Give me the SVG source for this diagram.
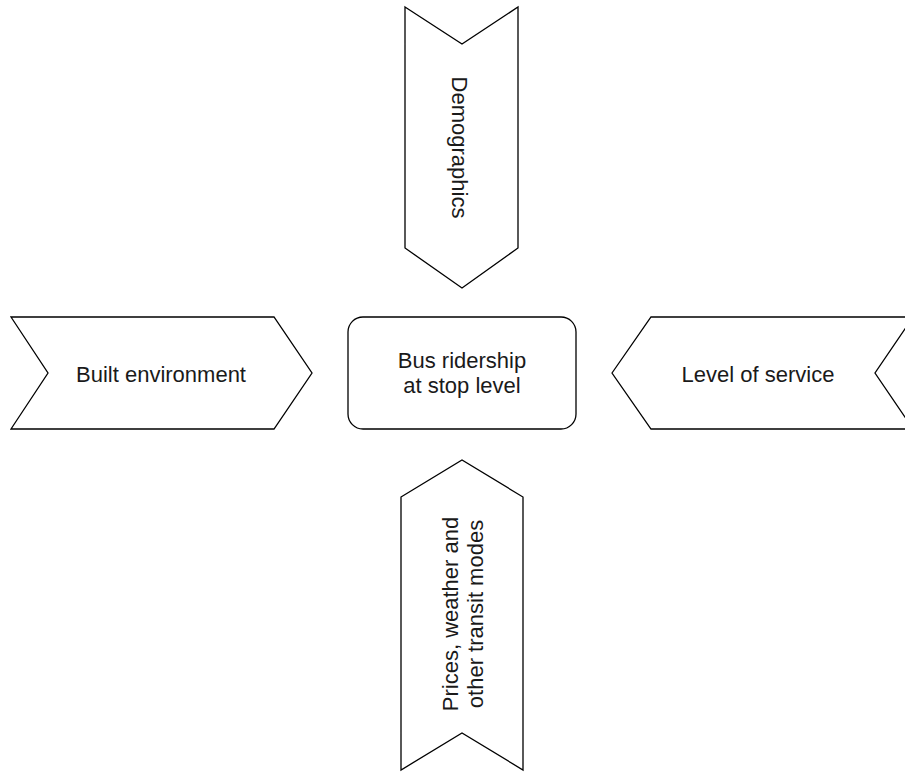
<svg xmlns="http://www.w3.org/2000/svg" width="905" height="772" viewBox="0 0 905 772">
<style>
.shape{fill:#ffffff;stroke:#000000;stroke-width:1.3;stroke-linejoin:miter}
.lbl{font-family:"Liberation Sans",Arial,Helvetica,sans-serif;font-size:22px;fill:#1a1a1a;text-anchor:middle}
</style>
<rect x="0" y="0" width="905" height="772" fill="#ffffff"/>
<g id="connectors"></g>
<g id="demographics">
<polygon class="shape" points="405,7 462,44 518,7 518,248 462,288 405,248"/>
<text class="lbl" transform="translate(452,147.5) rotate(90)" x="0" y="0">Demographics</text>
</g>
<g id="built-environment">
<polygon class="shape" points="11,317 274,317 312,373 274,429 11,429 48,373"/>
<text class="lbl" x="161" y="382">Built environment</text>
</g>
<g id="bus-ridership">
<rect class="shape" x="348" y="317" width="228" height="112" rx="15" ry="15"/>
<text class="lbl" x="462" y="368">Bus ridership</text>
<text class="lbl" x="462" y="393">at stop level</text>
</g>
<g id="level-of-service">
<polygon class="shape" points="612,373 651,317 913,317 875,373 913,429 651,429"/>
<text class="lbl" x="758" y="382">Level of service</text>
</g>
<g id="prices-weather">
<polygon class="shape" points="401,497 462,460 523,497 523,770 462,733 401,770"/>
<text class="lbl" transform="translate(458,614) rotate(-90)"><tspan x="0" y="0">Prices, weather and</tspan><tspan x="0" y="25">other transit modes</tspan></text>
</g>
</svg>
